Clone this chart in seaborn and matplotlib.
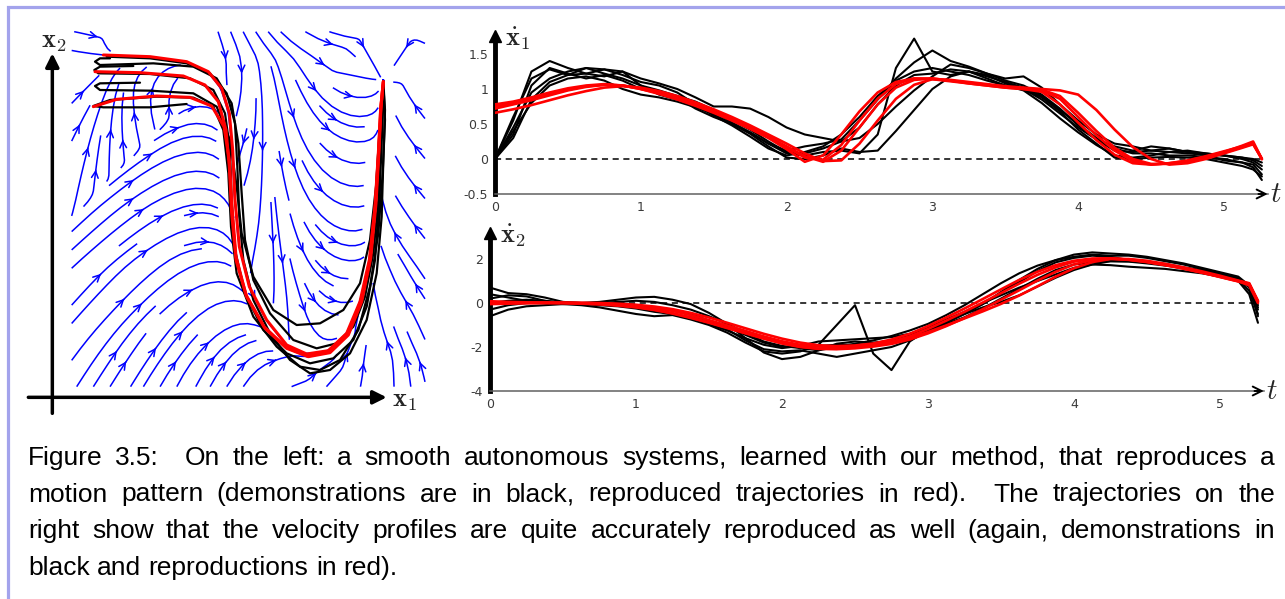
import numpy as np
import pandas as pd
import matplotlib.pyplot as plt
import seaborn as sns
from matplotlib.patches import Rectangle

sns.set_style("white")
plt.rcParams["font.family"] = ["DejaVu Sans"]
plt.rcParams["mathtext.fontset"] = "cm"
plt.rcParams["axes.unicode_minus"] = False

# ---- left panel: demonstrations (black) and reproductions (red) in state space ----
red1_x1 = [153, 293, 403, 468, 508, 531, 541, 548, 561, 591, 643, 703, 763, 828, 883, 923, 951, 968, 978, 985, 993]
red1_x2 = [1027, 1022, 1007, 977, 927, 852, 742, 592, 452, 332, 232, 157, 130, 140, 192, 287, 412, 572, 732, 862, 947]
red2_x1 = [128, 263, 393, 458, 498, 521, 531, 538, 551, 583, 638, 703, 768, 833, 888, 928, 955, 971, 980, 986, 993]
red2_x2 = [977, 974, 964, 937, 887, 802, 692, 552, 412, 302, 207, 147, 122, 134, 187, 287, 417, 582, 742, 872, 947]
red3_x1 = [123, 193, 313, 413, 478, 515, 531, 539, 551, 581, 635, 701, 765, 831, 886, 926, 953, 969, 979, 985, 993]
red3_x2 = [872, 894, 904, 900, 874, 812, 712, 572, 422, 307, 212, 150, 124, 136, 189, 287, 414, 577, 737, 867, 947]

black1_x1 = [163, 293, 403, 473, 523, 548, 555, 561, 573, 603, 653, 713, 773, 833, 893, 943, 973, 988, 993, 998, 993]
black1_x2 = [1022, 1017, 1002, 972, 912, 822, 692, 542, 412, 292, 192, 112, 72, 82, 132, 232, 372, 542, 712, 862, 947]
black2_x1 = [243, 143, 126, 138, 293, 413, 483, 518, 533, 538, 548, 578, 633, 703, 773, 843, 903, 943, 968, 981, 988, 993, 993]
black2_x2 = [994, 992, 982, 972, 970, 957, 922, 852, 742, 592, 442, 312, 202, 132, 102, 117, 172, 272, 412, 592, 762, 892, 947]
black3_x1 = [263, 143, 128, 143, 293, 423, 493, 533, 553, 568, 603, 663, 733, 803, 873, 923, 953, 971, 981, 988, 993]
black3_x2 = [944, 942, 934, 922, 920, 912, 872, 772, 632, 492, 362, 262, 217, 222, 262, 342, 472, 632, 792, 892, 947]
black4_x1 = [403, 293, 153, 123, 173, 313, 423, 483, 513, 528, 536, 553, 603, 673, 743, 803, 863, 918, 953, 978, 991, 998, 993]
black4_x2 = [880, 870, 870, 874, 892, 902, 899, 872, 802, 672, 512, 372, 242, 152, 92, 82, 112, 202, 332, 492, 672, 832, 947]
black5_x1 = [173, 143, 128, 143, 303, 423, 493, 538, 558, 568, 578, 603, 653, 723, 793, 853, 903, 938, 963, 978, 985, 991, 993]
black5_x2 = [1017, 1017, 1007, 997, 1002, 992, 957, 882, 762, 612, 472, 352, 252, 172, 147, 162, 212, 302, 432, 592, 772, 892, 947]

# ---- right panels: velocity profiles over time ----
t_grid = [0.0, 0.125, 0.25, 0.375, 0.5, 0.625, 0.75, 0.875, 1.0, 1.125, 1.25, 1.375, 1.5, 1.625,
          1.75, 1.875, 2.0, 2.125, 2.25, 2.375, 2.5, 2.625, 2.75, 2.875, 3.0, 3.125, 3.25, 3.375,
          3.5, 3.625, 3.75, 3.875, 4.0, 4.125, 4.25, 4.375, 4.5, 4.625, 4.75, 4.875, 5.0, 5.125, 5.2, 5.26]

xd1_red_a = [0.75, 0.80, 0.86, 0.93, 0.99, 1.04, 1.06, 1.05, 1.00, 0.93, 0.85, 0.76, 0.66, 0.55, 0.43, 0.30, 0.14, -0.04, 0.05, 0.35, 0.68, 0.95, 1.10, 1.15, 1.14, 1.11, 1.08, 1.05, 1.02, 1.00, 0.96, 0.78, 0.52, 0.27, 0.06, -0.06, -0.08, -0.06, -0.02, 0.04, 0.11, 0.18, 0.23, 0.0]
xd1_red_b = [0.72, 0.78, 0.84, 0.91, 0.98, 1.03, 1.06, 1.05, 1.01, 0.95, 0.87, 0.78, 0.68, 0.57, 0.45, 0.32, 0.18, 0.04, -0.04, 0.12, 0.45, 0.78, 1.02, 1.13, 1.15, 1.12, 1.09, 1.06, 1.03, 1.01, 0.99, 0.90, 0.66, 0.40, 0.16, 0.00, -0.07, -0.07, -0.04, 0.02, 0.09, 0.17, 0.22, 0.0]
xd1_red_c = [0.66, 0.71, 0.77, 0.84, 0.91, 0.97, 1.02, 1.04, 1.02, 0.97, 0.90, 0.81, 0.71, 0.60, 0.48, 0.35, 0.22, 0.08, -0.03, -0.02, 0.22, 0.55, 0.86, 1.06, 1.14, 1.13, 1.10, 1.07, 1.04, 1.02, 1.00, 0.98, 0.92, 0.70, 0.42, 0.17, 0.00, -0.08, -0.06, 0.00, 0.08, 0.16, 0.21, 0.0]
xd1_red_d = [0.78, 0.82, 0.88, 0.95, 1.01, 1.05, 1.07, 1.05, 1.00, 0.94, 0.86, 0.77, 0.67, 0.56, 0.44, 0.31, 0.17, 0.02, -0.01, 0.20, 0.55, 0.86, 1.07, 1.15, 1.15, 1.12, 1.08, 1.05, 1.02, 1.00, 0.98, 0.86, 0.60, 0.34, 0.12, -0.03, -0.08, -0.06, -0.03, 0.03, 0.10, 0.19, 0.25, 0.0]

xd1_black_a = [0.00, 0.55, 1.25, 1.40, 1.30, 1.22, 1.28, 1.25, 1.05, 0.98, 0.90, 0.82, 0.70, 0.55, 0.42, 0.25, 0.10, 0.08, 0.15, 0.25, 0.45, 0.78, 1.05, 1.20, 1.22, 1.28, 1.25, 1.15, 1.05, 1.00, 0.85, 0.65, 0.45, 0.28, 0.12, 0.10, 0.12, 0.10, 0.08, 0.06, 0.05, 0.00, -0.05, -0.15]
xd1_black_b = [0.00, 0.35, 1.05, 1.30, 1.22, 1.15, 1.20, 1.12, 1.00, 0.95, 0.88, 0.72, 0.60, 0.50, 0.38, 0.22, 0.08, 0.05, 0.10, 0.12, 0.08, 0.35, 1.30, 1.72, 1.25, 1.20, 1.25, 1.18, 1.10, 1.02, 0.90, 0.70, 0.50, 0.30, 0.15, 0.08, 0.08, 0.05, 0.05, 0.03, 0.00, -0.05, -0.12, -0.30]
xd1_black_c = [0.00, 0.60, 1.15, 1.28, 1.20, 1.30, 1.28, 1.20, 1.10, 1.05, 0.95, 0.78, 0.62, 0.48, 0.32, 0.15, 0.05, 0.10, 0.18, 0.35, 0.60, 0.90, 1.12, 1.25, 1.30, 1.25, 1.20, 1.12, 1.05, 0.98, 0.80, 0.58, 0.38, 0.20, 0.05, 0.02, 0.05, 0.10, 0.12, 0.08, 0.05, 0.02, -0.02, -0.10]
xd1_black_d = [0.00, 0.30, 0.85, 1.10, 1.20, 1.22, 1.18, 1.25, 1.15, 1.08, 1.00, 0.88, 0.75, 0.75, 0.72, 0.60, 0.45, 0.35, 0.30, 0.25, 0.30, 0.50, 0.75, 0.98, 1.18, 1.35, 1.30, 1.22, 1.15, 1.18, 1.02, 0.78, 0.55, 0.35, 0.22, 0.18, 0.12, 0.15, 0.10, 0.08, 0.05, 0.02, 0.00, -0.05]
xd1_black_e = [0.00, 0.45, 0.95, 1.15, 1.25, 1.30, 1.22, 1.15, 1.05, 0.92, 0.85, 0.80, 0.68, 0.52, 0.38, 0.22, 0.12, 0.18, 0.22, 0.28, 0.55, 0.85, 1.15, 1.38, 1.55, 1.40, 1.32, 1.22, 1.12, 1.05, 0.92, 0.72, 0.48, 0.28, 0.18, 0.12, 0.18, 0.15, 0.10, 0.05, -0.02, -0.05, -0.08, -0.22]
xd1_black_f = [0.00, 0.40, 0.80, 1.05, 1.15, 1.18, 1.12, 1.00, 0.92, 0.88, 0.82, 0.74, 0.64, 0.50, 0.36, 0.18, 0.02, 0.00, 0.05, 0.15, 0.10, 0.12, 0.40, 0.70, 1.00, 1.18, 1.25, 1.20, 1.08, 1.00, 0.88, 0.68, 0.42, 0.22, 0.02, 0.00, 0.02, 0.03, 0.02, 0.00, -0.05, -0.10, -0.15, -0.25]

xd2_red_a = [0.00, 0.02, 0.02, 0.02, 0.01, 0.00, -0.02, -0.06, -0.12, -0.22, -0.36, -0.55, -0.78, -1.02, -1.27, -1.52, -1.74, -1.90, -1.98, -2.00, -1.97, -1.90, -1.76, -1.52, -1.18, -0.80, -0.40, 0.02, 0.45, 0.88, 1.28, 1.62, 1.88, 2.00, 2.02, 1.96, 1.86, 1.72, 1.56, 1.38, 1.18, 0.98, 0.86, 0.10]
xd2_red_b = [-0.05, -0.03, -0.01, 0.00, 0.00, -0.02, -0.05, -0.10, -0.18, -0.30, -0.46, -0.66, -0.88, -1.12, -1.36, -1.60, -1.82, -1.98, -2.08, -2.10, -2.06, -1.98, -1.86, -1.66, -1.38, -1.05, -0.68, -0.28, 0.15, 0.58, 1.02, 1.42, 1.75, 1.95, 2.02, 1.98, 1.88, 1.74, 1.58, 1.40, 1.20, 1.00, 0.88, 0.05]
xd2_red_c = [0.08, 0.05, 0.03, 0.02, 0.02, 0.01, 0.00, -0.03, -0.08, -0.16, -0.28, -0.45, -0.66, -0.90, -1.15, -1.40, -1.62, -1.80, -1.92, -1.96, -1.93, -1.84, -1.66, -1.40, -1.05, -0.66, -0.25, 0.18, 0.62, 1.05, 1.42, 1.72, 1.92, 2.02, 2.03, 1.97, 1.87, 1.73, 1.57, 1.39, 1.19, 0.99, 0.80, 0.00]
xd2_red_d = [-0.02, 0.00, 0.00, 0.00, -0.01, -0.03, -0.06, -0.12, -0.20, -0.32, -0.48, -0.68, -0.90, -1.14, -1.38, -1.62, -1.84, -2.00, -2.08, -2.08, -2.02, -1.92, -1.78, -1.58, -1.32, -1.02, -0.70, -0.38, -0.04, 0.34, 0.76, 1.20, 1.58, 1.86, 2.00, 2.00, 1.92, 1.78, 1.62, 1.44, 1.24, 1.02, 0.90, 0.08]

xd2_black_a = [0.70, 0.45, 0.40, 0.25, 0.05, 0.00, 0.05, 0.15, 0.25, 0.28, 0.15, -0.05, -0.45, -0.95, -1.60, -2.25, -2.55, -2.45, -2.15, -1.85, -1.75, -1.80, -1.72, -1.45, -1.20, -0.85, -0.45, -0.05, 0.45, 0.95, 1.45, 1.85, 2.05, 2.15, 2.10, 1.95, 1.85, 1.78, 1.62, 1.50, 1.35, 1.05, 0.55, -0.50]
xd2_black_b = [-0.60, -0.30, -0.15, -0.10, -0.05, -0.10, -0.20, -0.35, -0.50, -0.60, -0.55, -0.75, -1.00, -1.35, -1.80, -2.20, -2.30, -2.20, -1.90, -1.00, -0.10, -2.30, -3.05, -1.75, -1.20, -0.95, -0.65, -0.25, 0.20, 0.65, 1.10, 1.50, 1.75, 1.85, 1.90, 1.88, 1.80, 1.70, 1.60, 1.45, 1.25, 1.00, 0.40, -0.90]
xd2_black_c = [0.20, 0.35, 0.30, 0.10, 0.00, -0.05, 0.00, 0.05, 0.10, 0.05, -0.10, -0.30, -0.60, -0.95, -1.35, -1.75, -1.95, -2.05, -2.15, -2.00, -1.85, -1.70, -1.50, -1.25, -0.95, -0.55, -0.10, 0.40, 0.90, 1.35, 1.70, 1.95, 2.10, 2.20, 2.15, 2.15, 2.05, 1.90, 1.75, 1.55, 1.35, 1.15, 0.70, -0.30]
xd2_black_d = [-0.30, -0.10, 0.00, 0.05, 0.02, 0.00, -0.05, -0.10, -0.20, -0.35, -0.50, -0.70, -0.95, -1.25, -1.60, -1.90, -2.05, -1.95, -1.75, -1.70, -1.65, -1.60, -1.55, -1.40, -1.10, -0.75, -0.40, 0.00, 0.35, 0.70, 1.00, 1.30, 1.60, 1.75, 1.72, 1.65, 1.60, 1.55, 1.45, 1.35, 1.20, 1.05, 0.75, -0.20]
xd2_black_e = [0.40, 0.25, 0.10, 0.00, -0.05, -0.02, 0.02, 0.00, -0.10, -0.20, -0.30, -0.50, -0.80, -1.20, -1.70, -2.10, -2.20, -2.15, -2.30, -2.45, -2.30, -2.15, -2.00, -1.70, -1.30, -0.90, -0.50, -0.05, 0.50, 1.05, 1.55, 1.95, 2.20, 2.30, 2.25, 2.20, 2.10, 1.95, 1.80, 1.60, 1.40, 1.20, 0.80, -0.60]
xd2_black_f = [0.00, 0.10, 0.15, 0.10, 0.02, -0.05, -0.10, -0.15, -0.25, -0.40, -0.50, -0.65, -0.85, -1.10, -1.45, -1.80, -2.00, -2.00, -1.95, -1.90, -1.90, -1.85, -1.70, -1.50, -1.20, -0.85, -0.50, -0.20, 0.05, 0.35, 0.75, 1.15, 1.50, 1.75, 1.90, 1.90, 1.85, 1.75, 1.60, 1.45, 1.30, 1.10, 0.80, -0.10]

xd1_ticks = [-0.5, 0, 0.5, 1, 1.5]
xd1_ticklabels = ["-0.5", "0", "0.5", "1", "1.5"]
xd2_ticks = [-4, -2, 0, 2]
xd2_ticklabels = ["-4", "-2", "0", "2"]
t_ticks = [0, 1, 2, 3, 4, 5]

caption_lines = [
    ("Figure 3.5:  On the left: a smooth autonomous systems, learned with our method, that reproduces a", True),
    ("motion pattern (demonstrations are in black, reproduced trajectories in red).  The trajectories on the", True),
    ("right show that the velocity profiles are quite accurately reproduced as well (again, demonstrations in", True),
    ("black and reproductions in red).", False),
]

W, H = 1285, 599
fig = plt.figure(figsize=(W / 100, H / 100), dpi=100)


def px_axes(left, top, right, bottom):
    return fig.add_axes([left / W, 1 - bottom / H, (right - left) / W, (bottom - top) / H])


def frame(curves, xname, yname):
    parts = [pd.DataFrame({xname: a, yname: b, "curve": name}) for name, (a, b) in curves.items()]
    return pd.concat(parts, ignore_index=True)


def unit(v):
    return v / np.maximum(np.linalg.norm(v, axis=1), 1e-9)[:, None]


# ---------------- left: streamlines of the learned system ----------------
ax = px_axes(15, 20, 435, 420)
ax.set_xlim(-112, 1148)
ax.set_ylim(-68, 1132)

# vector field that pulls everything onto the reproduced path and along it to the target
path = np.column_stack([red1_x1, red1_x2]).astype(float)
seg = np.diff(path, axis=0)
seg_len = np.hypot(seg[:, 0], seg[:, 1])
cum = np.concatenate([[0.0], np.cumsum(seg_len)])
x_lo, x_hi, y_lo, y_hi = 58, 1118, 32, 1097
gx = np.linspace(x_lo, x_hi, 100)
gy = np.linspace(y_lo, y_hi, 100)
GX, GY = np.meshgrid(gx, gy)
pts = np.column_stack([GX.ravel(), GY.ravel()])
rel = pts[:, None, :] - path[None, :-1, :]
tau = np.clip((rel * seg[None]).sum(-1) / seg_len ** 2, 0, 1)
foot = path[None, :-1, :] + tau[..., None] * seg[None]
dist = np.linalg.norm(pts[:, None, :] - foot, axis=-1)
k = dist.argmin(axis=1)
n = np.arange(len(pts))
d = dist[n, k]
f = foot[n, k]
tk = tau[n, k]
tang = seg[k] / seg_len[k][:, None]
s_near = cum[k] + tk * seg_len[k]
off = pts - f
to_path = -off / np.maximum(d, 1e-9)[:, None]
cross = tang[:, 0] * off[:, 1] - tang[:, 1] * off[:, 0]
left_side = cross > 0
i_bot = int(np.argmin(red1_x2))
s_bottom = cum[i_bot]
before_bottom = s_near < s_bottom

near_out = tang + to_path * (1.5 * d / (d + 80))[:, None]
near_in = 0.6 * tang + to_path * (1.2 * d / (d + 40))[:, None]
near_slide = tang + to_path * (0.4 * d / (d + 40))[:, None]
goal = path[-1]
past_goal = (k == len(seg) - 1) & (tk >= 1) & (d < 150)
to_goal = unit(goal - pts)

# drift above the start of the path: rightwards along the top, then down
drift_x = np.clip((pts[:, 1] - 900) / 100, 0, None) * np.clip((550 - pts[:, 0]) / 200, 0, None)
drift = unit(np.column_stack([drift_x, -np.ones(len(pts))]))

# inside the U: fall down, bending right towards the rising branch (nested J shapes)
x_desc = np.interp(pts[:, 1], np.array(red1_x2[:i_bot + 1])[::-1], np.array(red1_x1[:i_bot + 1])[::-1])
x_asc = np.interp(pts[:, 1], red1_x2[i_bot:], red1_x1[i_bot:])
inside = (pts[:, 0] > x_desc) & (pts[:, 0] < x_asc) & (pts[:, 1] > red1_x2[i_bot])
frac = np.clip((pts[:, 0] - x_desc) / np.maximum(x_asc - x_desc, 1), 0, 1)
inner = unit(np.column_stack([0.06 + 2.4 * frac ** 2.5, -1 + 1.1 * frac ** 4]))

s_up = np.clip(s_near - 0.8 * d, 0, cum[-1])
target = np.column_stack([np.interp(s_up, cum, path[:, 0]), np.interp(s_up, cum, path[:, 1])])
to_target = unit(target - pts)

vel = near_out.copy()
w_slide = np.exp(-d / 90)[:, None]
w_inner = np.exp(-d / 45)[:, None]
w_out = np.exp(-d / 120)[:, None]
m_slide = left_side & ~inside
vel[m_slide] = (w_slide * near_slide + (1 - w_slide) * drift)[m_slide]
m_inner = left_side & inside
vel[m_inner] = (w_inner * unit(near_in) + (1 - w_inner) * inner)[m_inner]
m_out = ~left_side & before_bottom
vel[m_out] = (w_out * near_out + (1 - w_out) * to_target)[m_out]
vel[past_goal] = to_goal[past_goal]
U = vel[:, 0].reshape(GX.shape)
V = vel[:, 1].reshape(GX.shape)

# seeds: the path itself first (so others stop where they merge), then the borders, then fill
seed_path = np.column_stack([red1_x1[:1], red1_x2[:1]])
sb = np.arange(75, x_hi, 50)
seed_bottom = np.column_stack([sb, np.full(len(sb), y_lo + 3)])
sl = np.arange(60, y_hi, 55)
seed_left = np.column_stack([np.full(len(sl), x_lo + 3), sl])
st = np.arange(80, x_hi, 38)
seed_top = np.column_stack([st, np.full(len(st), y_hi - 3)])
sr = np.arange(60, y_hi, 60)
seed_right = np.column_stack([np.full(len(sr), x_hi - 3), sr])
fx, fy = np.meshgrid(np.arange(80, x_hi, 45), np.arange(50, y_hi, 45))
seed_fill = np.column_stack([fx.ravel(), fy.ravel()])
seeds = np.vstack([seed_path, seed_bottom, seed_left, seed_top, seed_right, seed_fill])

ax.streamplot(gx, gy, U, V, color="#0000ff", linewidth=1.1, density=0.95, start_points=seeds,
              arrowsize=1.2, arrowstyle="->", maxlength=8, zorder=1)

black_ds = frame({"b1": (black1_x1, black1_x2), "b2": (black2_x1, black2_x2),
                  "b3": (black3_x1, black3_x2), "b4": (black4_x1, black4_x2),
                  "b5": (black5_x1, black5_x2)}, "x1", "x2")
red_ds = frame({"r1": (red1_x1, red1_x2), "r2": (red2_x1, red2_x2), "r3": (red3_x1, red3_x2)}, "x1", "x2")
sns.lineplot(data=black_ds, x="x1", y="x2", units="curve", estimator=None, sort=False,
             color="black", lw=1.6, ax=ax, legend=False, zorder=2)
sns.lineplot(data=red_ds, x="x1", y="x2", units="curve", estimator=None, sort=False,
             color="red", lw=2.2, ax=ax, legend=False, zorder=3)
ax.set_axis_off()

arrow_kw = dict(arrowstyle="-|>", color="black", lw=2.5, mutation_scale=20, shrinkA=0, shrinkB=0)
ax.annotate("", xy=(1003, 0), xytext=(-72, 0), arrowprops=arrow_kw, annotation_clip=False)
ax.annotate("", xy=(0, 1032), xytext=(0, -48), arrowprops=arrow_kw, annotation_clip=False)
ax.annotate(r"$\mathbf{x}_1$", xy=(1003, 0), xytext=(4, -2), textcoords="offset points",
            ha="left", va="center", fontsize=19, annotation_clip=False)
ax.annotate(r"$\mathbf{x}_2$", xy=(0, 1032), xytext=(1, 9), textcoords="offset points",
            ha="center", va="center", fontsize=19, annotation_clip=False)


# ---------------- right: velocity profiles ----------------
def velocity_panel(ax, black, red, ticks, ticklabels, ylim, label):
    ax.set_xlim(0, 5.3)
    ax.set_ylim(*ylim)
    ax.axhline(0, xmax=t_grid[-1] / 5.3, color="black", lw=1.1, ls=(0, (4, 3)), zorder=1)
    bdf = frame({name: (t_grid, v) for name, v in black.items()}, "t", "v")
    rdf = frame({name: (t_grid, v) for name, v in red.items()}, "t", "v")
    sns.lineplot(data=bdf, x="t", y="v", units="curve", estimator=None, sort=False,
                 color="black", lw=1.5, ax=ax, legend=False, zorder=2)
    sns.lineplot(data=rdf, x="t", y="v", units="curve", estimator=None, sort=False,
                 color="red", lw=1.9, ax=ax, legend=False, zorder=3)
    ax.set_xlabel("")
    ax.set_ylabel("")
    ax.set_facecolor("none")
    for s in ["top", "right"]:
        ax.spines[s].set_visible(False)
    ax.spines["left"].set_linewidth(3.5)
    ax.spines["left"].set_color("black")
    ax.spines["bottom"].set_linewidth(1.1)
    ax.spines["bottom"].set_color("#606060")
    ax.set_xticks(t_ticks)
    ax.set_xticklabels([str(t) for t in t_ticks])
    ax.set_yticks(ticks)
    ax.set_yticklabels(ticklabels)
    ax.tick_params(direction="in", length=6, width=1, color="#606060", labelcolor="#3a3a3a",
                   labelsize=9, pad=5)
    ax.plot([0], [1], marker="^", ms=9, color="black", transform=ax.transAxes, clip_on=False)
    ax.annotate("", xy=(1.0, 0), xytext=(0.988, 0), xycoords="axes fraction",
                arrowprops=dict(arrowstyle="->", color="black", lw=1.4, mutation_scale=16,
                                shrinkA=0, shrinkB=0))
    ax.annotate(r"$t$", xy=(1, 0), xycoords="axes fraction", xytext=(1.5, 0),
                textcoords="offset points", ha="left", va="center", fontsize=21)
    ax.annotate(label, xy=(0, 1), xycoords="axes fraction", xytext=(16.5, -2),
                textcoords="offset points", ha="center", va="center", fontsize=19)


ax1 = px_axes(495, 35.8, 1267.7, 194)
velocity_panel(ax1,
               {"a": xd1_black_a, "b": xd1_black_b, "c": xd1_black_c,
                "d": xd1_black_d, "e": xd1_black_e, "f": xd1_black_f},
               {"a": xd1_red_a, "b": xd1_red_b, "c": xd1_red_c, "d": xd1_red_d},
               xd1_ticks, xd1_ticklabels, (-0.5, 1.76), r"$\dot{\mathbf{x}}_1$")

ax2 = px_axes(490, 232.6, 1263.8, 391)
velocity_panel(ax2,
               {"a": xd2_black_a, "b": xd2_black_b, "c": xd2_black_c,
                "d": xd2_black_d, "e": xd2_black_e, "f": xd2_black_f},
               {"a": xd2_red_a, "b": xd2_red_b, "c": xd2_red_c, "d": xd2_red_d},
               xd2_ticks, xd2_ticklabels, (-4, 3.2), r"$\dot{\mathbf{x}}_2$")

# ---------------- caption (justified) ----------------
renderer = fig.canvas.get_renderer()
x_left, x_right = 28, 1275
baselines = [465, 501.5, 538, 575]
cap_size = 19
for (line, justify), yb in zip(caption_lines, baselines):
    words, weights = [], []
    for tok in line.split(" "):
        if tok == "":
            weights[-1] += 1.0
            continue
        words.append(tok)
        weights.append(1.0)
    weights[-1] = 0.0
    texts = [fig.text(0, 1 - yb / H, wd, fontsize=cap_size, family=["Liberation Sans", "DejaVu Sans"],
                      va="baseline", ha="left", color="black") for wd in words]
    widths = [t.get_window_extent(renderer).width for t in texts]
    if justify:
        gap = (x_right - x_left - sum(widths)) / sum(weights)
    else:
        gap = 0.278 * cap_size * 100 / 72
    x = x_left
    for t, wdt, wt in zip(texts, widths, weights):
        t.set_x(x / W)
        x += wdt + gap * wt

# page frame
fig.add_artist(Rectangle((7.5 / W, -0.1), 2, 1.1 - 7.5 / H, transform=fig.transFigure,
                         fill=False, edgecolor="#a3a3ec", lw=2.3, clip_on=False))

fig.savefig("out.png", dpi=100)
